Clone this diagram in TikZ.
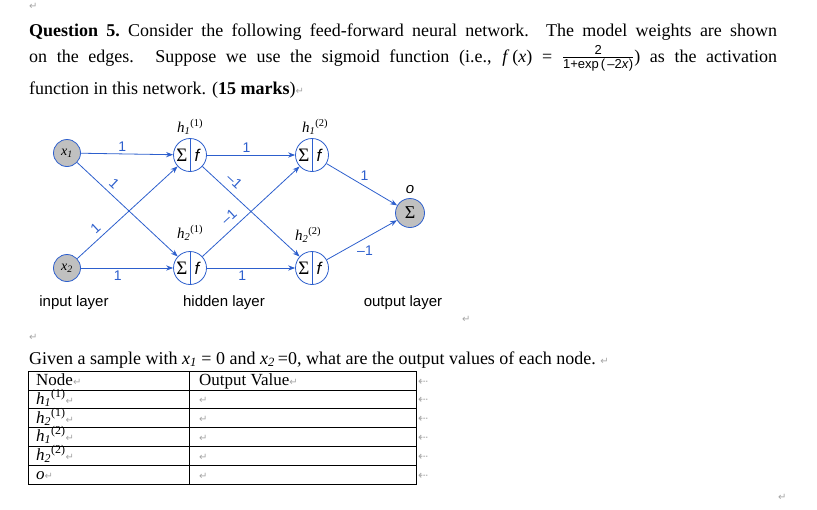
\documentclass[tikz,border=0pt]{standalone}
\usepackage{fix-cm}
\usepackage{amsmath}
\usepackage{fontspec}
\setmainfont{Liberation Serif}
\setsansfont{Liberation Sans}
\newfontfamily\markfont{DejaVu Sans}
\usetikzlibrary{arrows.meta, positioning}
\definecolor{netblue}{RGB}{45,95,205}
\definecolor{nodegray}{RGB}{192,192,192}
\newcommand{\pmark}{{\markfont\color{gray!70}\fontsize{10}{10}\selectfont\char"21B5}}
\newcommand{\rmark}{{\markfont\color{gray!70}\fontsize{12}{12}\selectfont\char"21E0}}
\newcommand{\hvar}[2]{\textit{h}\textsubscript{\textit{#1}}\textsuperscript{(#2)}}

\begin{document}
\begin{tikzpicture}[x=1pt, y=-1pt,
    txt/.style={anchor=base west, inner sep=0pt, font=\fontsize{18}{20}\selectfont},
    cell/.style={anchor=base west, inner sep=0pt, font=\fontsize{17}{18}\selectfont},
    input/.style={circle, draw=netblue, thick, fill=nodegray, minimum size=27pt, inner sep=0pt, font=\fontsize{14}{14}\selectfont},
    unit/.style={circle, draw=netblue, thick, fill=white, minimum size=33pt, inner sep=0pt},
    outp/.style={circle, draw=netblue, thick, fill=nodegray, minimum size=29pt, inner sep=0pt, font=\fontsize{18}{18}\selectfont},
    edge/.style={-{Stealth[length=7pt]}, netblue, thick},
    wt/.style={font=\sffamily\fontsize{14}{14}\selectfont, inner sep=2pt},
    lbl/.style={font=\fontsize{15}{15}\selectfont, inner sep=0pt},
    layer/.style={font=\sffamily\fontsize{15}{15}\selectfont, inner sep=0pt}
  ]
\useasboundingbox (0,0) rectangle (817,509);

% Question text
\node[txt] (q1) at (29,9) {\pmark};
\node[txt] (l1) at (29,36) {\makebox[748pt][s]{\textbf{Question 5.}\ Consider the following feed-forward neural network. The model weights are shown}};
\node[txt] (l2) at (29,62) {\makebox[748pt][s]{on the edges. Suppose we use the sigmoid function (i.e., \textit{f}\,(\textit{x})\ =\ $\frac{\text{\sffamily\fontsize{13}{13}\selectfont 2}}{\text{\sffamily\fontsize{13}{13}\selectfont 1+exp\,(\,--2\textit{x})}}$) as the activation}};
\node[txt] (l3) at (29,94) {function in this network. (\textbf{15 marks})\pmark};

% Network nodes
\node[input] (x1) at (67,153) {\textit{x\textsubscript{1}}};
\node[input] (x2) at (67,268) {\textit{x\textsubscript{2}}};
\node[unit] (h11) at (190,155) {};
\node[unit] (h21) at (190,268) {};
\node[unit] (h12) at (312,155) {};
\node[unit] (h22) at (312,268) {};
\node[outp] (o) at (410,213) {Σ};

\foreach \n in {h11,h21,h12,h22} {
  \draw[netblue, thick] (\n.north) -- (\n.south);
  \node[lbl] (\n-s) at ([xshift=-8pt]\n.center) {\fontsize{19}{19}\selectfont Σ};
  \node[lbl] (\n-f) at ([xshift=7pt]\n.center) {\fontsize{17}{17}\selectfont\sffamily\itshape f};
}

% Node labels
\node[lbl] (t11) at (190,127) {\hvar{1}{1}};
\node[lbl] (t21) at (190,233) {\hvar{2}{1}};
\node[lbl] (t12) at (315,127) {\hvar{1}{2}};
\node[lbl] (t22) at (308,235) {\hvar{2}{2}};
\node[lbl] (to) at (410,190) {\sffamily\itshape o};

% Edges
\draw[edge] (x1) -- node[wt, above, pos=0.45] {1} (h11);
\draw[edge] (x1) -- node[wt, sloped, above, pos=0.3, yshift=3pt] {1} (h21);
\draw[edge] (x2) -- node[wt, sloped, above, pos=0.25, yshift=3pt] {1} (h11);
\draw[edge] (x2) -- node[wt, below, pos=0.4] {1} (h21);
\draw[edge] (h11) -- node[wt, above, pos=0.45] {1} (h12);
\draw[edge] (h11) -- node[wt, sloped, above, pos=0.25, yshift=4pt] {--1} (h22);
\draw[edge] (h21) -- node[wt, sloped, above, pos=0.35, yshift=4pt] {--1} (h12);
\draw[edge] (h21) -- node[wt, below, pos=0.4] {1} (h22);
\draw[edge] (h12) -- node[wt, above right, pos=0.45] {1} (o);
\draw[edge] (h22) -- node[wt, below right, pos=0.4] {--1} (o);

% Layer captions
\node[layer] (in) at (74,303) {input layer};
\node[layer] (hid) at (224,303) {hidden layer};
\node[layer] (out) at (403,303) {output layer};
\node[txt] (q2) at (462,322) {\pmark};
\node[txt] (q3) at (29,340) {\pmark};

% Question and table
\node[txt] (given) at (29,364) {Given a sample with \textit{x\textsubscript{1}} = 0 and \textit{x\textsubscript{2}}\,=0, what are the output values of each node.\ \pmark};
\draw (28,371) rectangle (416,484);
\draw (189,371) -- (189,484);
\foreach \i in {1,...,5} \draw (28,371+18.8*\i) -- (416,371+18.8*\i);

\node[cell] (c0) at (36,385) {Node\pmark};
\node[cell] (d0) at (199,385) {Output Value\pmark};
\node[cell] (c1) at (36,404) {\hvar{1}{1}\pmark};
\node[cell] (c2) at (36,423) {\hvar{2}{1}\pmark};
\node[cell] (c3) at (36,441) {\hvar{1}{2}\pmark};
\node[cell] (c4) at (36,460) {\hvar{2}{2}\pmark};
\node[cell] (c5) at (36,479) {\textit{o}\pmark};
\foreach \i in {1,...,5} \node[cell] (d\i) at (199,385+18.8*\i) {\pmark};
\foreach \i in {0,...,5} \node[cell] (r\i) at (418,385+18.8*\i) {\rmark};
\node[txt] (q4) at (778,500) {\pmark};
\end{tikzpicture}
\end{document}
